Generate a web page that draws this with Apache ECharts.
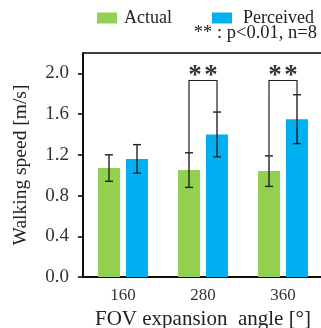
<!DOCTYPE html>
<html><head><meta charset="utf-8">
<script src="https://cdn.jsdelivr.net/npm/echarts@6/dist/echarts.min.js"></script>
<style>html,body{margin:0;padding:0;background:#fff}#c{width:321px;height:328px}</style>
</head><body><div id="c"></div>
<script>
const categories = ['160', '280', '360'];
const actualMean = [1.07, 1.05, 1.04];
const actualSD = [0.13, 0.17, 0.15];
const perceivedMean = [1.16, 1.40, 1.55];
const perceivedSD = [0.14, 0.22, 0.24];
const yTicks = [0, 0.4, 0.8, 1.2, 1.6, 2.0];
const sigCategories = [1, 2];
const sigTop = [1.93, 1.93];

const FONT = 'Liberation Serif';
const chart = echarts.init(document.getElementById('c'));
const OFFSET_FRAC = 14 / 80;

const errData = [];
categories.forEach((c, i) => {
  errData.push([i, actualMean[i] - actualSD[i], actualMean[i] + actualSD[i], -1]);
  errData.push([i, perceivedMean[i] - perceivedSD[i], perceivedMean[i] + perceivedSD[i], 1]);
});
const sigData = sigCategories.map((ci, k) => [ci, sigTop[k], actualMean[ci] + actualSD[ci], perceivedMean[ci] + perceivedSD[ci]]);

chart.setOption({
  animation: false,
  textStyle: {fontFamily: FONT},
  grid: {left: 83, top: 53, width: 240, height: 224, outerBoundsMode: 'none', containLabel: false,
    show: true, borderColor: '#000', borderWidth: 1.5, backgroundColor: 'transparent'},
  legend: {
    left: 97, top: 9, width: 230, padding: 0, itemWidth: 20, itemHeight: 11, itemGap: 40,
    icon: 'rect',
    textStyle: {fontFamily: FONT, fontSize: 18, color: '#222', padding: [0, 0, 0, 2]},
    data: ['Actual', {name: 'Perceived', textStyle: {padding: [0, 0, 0, 6]}}]
  },
  graphic: [{
    type: 'text', right: 4, top: 24,
    style: {text: '** : p<0.01, n=8', font: '18.5px "Liberation Serif"', fill: '#222'}
  }],
  xAxis: {
    type: 'category', data: categories,
    axisLine: {lineStyle: {color: '#000', width: 1.5}},
    axisTick: {alignWithLabel: true, length: 5, lineStyle: {color: '#000', width: 1.5}},
    axisLabel: {fontFamily: FONT, fontSize: 17, color: '#333', margin: 10},
    name: 'FOV expansion  angle [°]', nameLocation: 'middle', nameGap: 31,
    nameTextStyle: {fontFamily: FONT, fontSize: 21, color: '#222'}
  },
  yAxis: {
    type: 'value', min: 0, max: 2.2, interval: 0.4,
    splitLine: {show: false},
    axisLine: {show: true, lineStyle: {color: '#000', width: 1.5}},
    axisTick: {show: true, length: 5, customValues: yTicks, lineStyle: {color: '#000', width: 1.5}},
    axisLabel: {fontFamily: FONT, fontSize: 19, color: '#333', margin: 14, customValues: yTicks,
      formatter: v => v.toFixed(1)},
    name: 'Walking speed [m/s]', nameLocation: 'middle', nameGap: 52, nameRotate: 90,
    nameTextStyle: {fontFamily: FONT, fontSize: 19.5, color: '#222'}
  },
  series: [
    {name: 'Actual', type: 'bar', data: actualMean, barWidth: 22, barGap: '27%', itemStyle: {color: '#92D050'}},
    {name: 'Perceived', type: 'bar', data: perceivedMean, barWidth: 22, itemStyle: {color: '#00B0F0'}},
    {
      type: 'custom', data: errData, z: 10,
      renderItem: (params, api) => {
        const bw = api.size([1, 0])[0];
        const x = api.coord([api.value(0), 0])[0] + api.value(3) * OFFSET_FRAC * bw;
        const lo = api.coord([api.value(0), api.value(1)])[1];
        const hi = api.coord([api.value(0), api.value(2)])[1];
        const st = {stroke: '#222', lineWidth: 1.4};
        return {type: 'group', children: [
          {type: 'line', shape: {x1: x, y1: lo, x2: x, y2: hi}, style: st},
          {type: 'line', shape: {x1: x - 4, y1: lo, x2: x + 4, y2: lo}, style: st},
          {type: 'line', shape: {x1: x - 4, y1: hi, x2: x + 4, y2: hi}, style: st}
        ]};
      }
    },
    {
      type: 'custom', data: sigData, z: 10,
      renderItem: (params, api) => {
        const bw = api.size([1, 0])[0];
        const cx = api.coord([api.value(0), 0])[0];
        const xl = cx - OFFSET_FRAC * bw, xr = cx + OFFSET_FRAC * bw;
        const yt = api.coord([api.value(0), api.value(1)])[1];
        const yl = api.coord([api.value(0), api.value(2)])[1];
        const yr = api.coord([api.value(0), api.value(3)])[1];
        const st = {stroke: '#222', lineWidth: 1.2, fill: null};
        const star = dx => ({type: 'text', x: cx + dx, y: yt - 4,
          style: {text: '*', font: 'bold 27px "Liberation Serif"', fill: '#333', align: 'center', verticalAlign: 'middle'}});
        return {type: 'group', children: [
          {type: 'polyline', shape: {points: [[xl, yl], [xl, yt], [xr, yt], [xr, yr]]}, style: st},
          star(-8), star(8)
        ]};
      }
    }
  ]
});
</script></body></html>
